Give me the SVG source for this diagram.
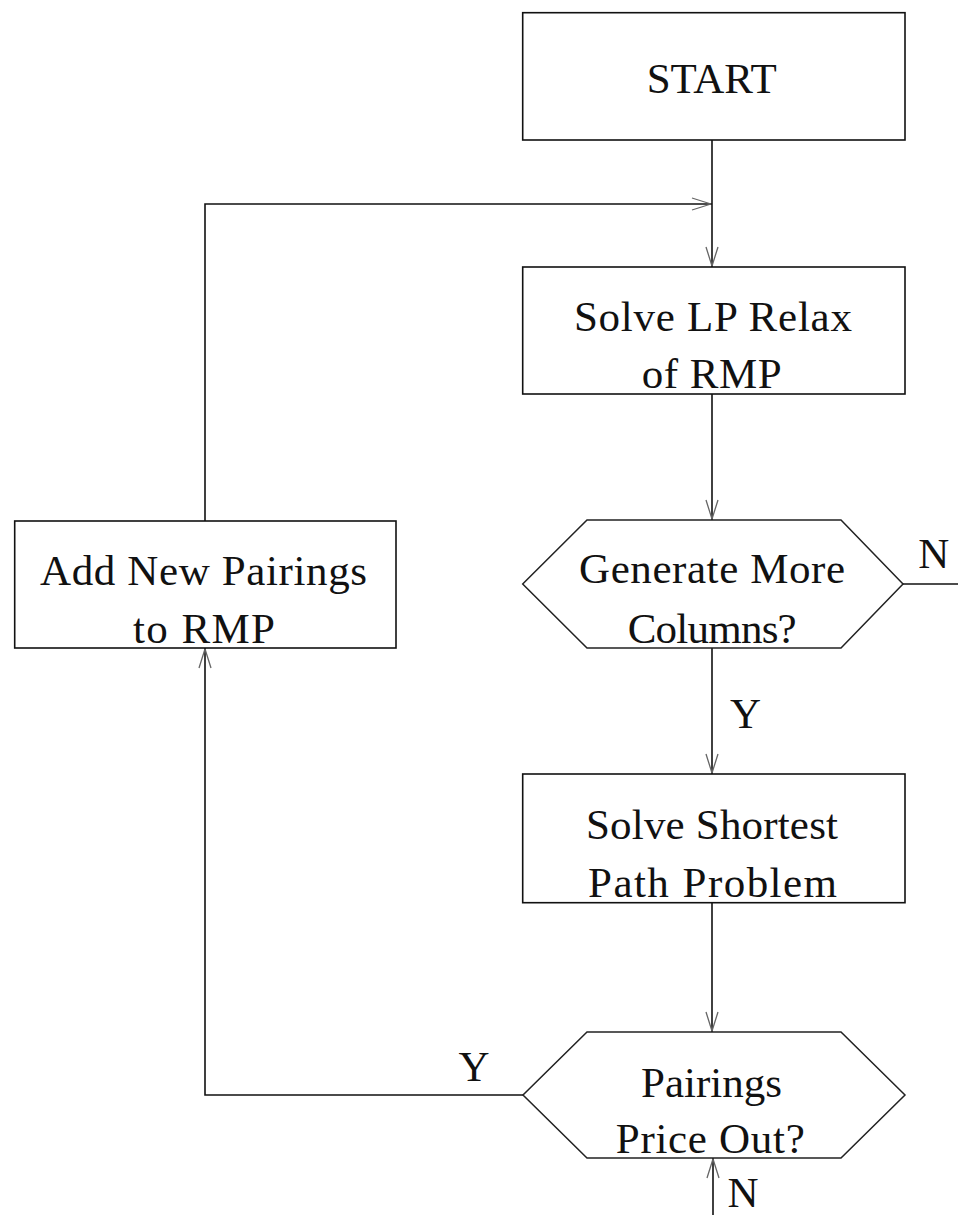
<svg xmlns="http://www.w3.org/2000/svg" width="958" height="1215" viewBox="0 0 958 1215">
  <style>
    .box { fill: none; stroke: #111; stroke-width: 1.6; }
    .hex { fill: none; stroke: #222; stroke-width: 1.5; stroke-linejoin: miter; }
    .edge { fill: none; stroke: #111; stroke-width: 1.6; }
    .head { fill: none; stroke: #666; stroke-width: 1.3; }
    text { font-family: "Liberation Serif", "DejaVu Serif", serif; font-size: 43px; fill: #111; text-anchor: middle; }
  </style>
  <rect width="958" height="1215" fill="#fff"/>

  <g id="connectors">
    <!-- START -> Solve LP -->
    <path class="edge" d="M712,140 V267"/>
    <path class="head" d="M706,247 L712,266 M718,247 L712,266"/>
    <!-- Solve LP -> Generate More Columns? -->
    <path class="edge" d="M712,394 V520"/>
    <path class="head" d="M706,500 L712,519 M718,500 L712,519"/>
    <!-- Generate More Columns? (Y) -> Solve Shortest Path -->
    <path class="edge" d="M712,648 V774"/>
    <path class="head" d="M706,754 L712,773 M718,754 L712,773"/>
    <!-- Generate More Columns? (N) exit -->
    <path class="edge" d="M903,584 H958"/>
    <!-- Solve Shortest Path -> Pairings Price Out? -->
    <path class="edge" d="M712,902 V1032"/>
    <path class="head" d="M706,1012 L712,1031 M718,1012 L712,1031"/>
    <!-- Pairings Price Out? (Y) -> Add New Pairings -->
    <path class="edge" d="M523,1095 H205 V648"/>
    <path class="head" d="M199,668 L205,649 M211,668 L205,649"/>
    <!-- Add New Pairings -> back into Solve LP -->
    <path class="edge" d="M205,521 V204 H712"/>
    <path class="head" d="M692,198 L711,204 M692,210 L711,204"/>
    <!-- Pairings Price Out? (N) -->
    <path class="edge" d="M713,1215 V1158"/>
    <path class="head" d="M707,1178 L713,1159 M719,1178 L713,1159"/>
    <text x="933.7" y="568" textLength="26">N</text>
    <text x="745.5" y="728" textLength="25">Y</text>
    <text x="474" y="1081" textLength="26">Y</text>
    <text x="743" y="1207" textLength="25">N</text>
  </g>

  <g id="start">
    <rect class="box" x="522.7" y="12.7" width="382.3" height="127.3"/>
    <text x="711.7" y="92.7" textLength="130">START</text>
  </g>

  <g id="solve-lp">
    <rect class="box" x="522.7" y="267" width="382.3" height="127"/>
    <text x="712.9" y="331" textLength="278">Solve LP Relax</text>
    <text x="711.7" y="388" textLength="140">of RMP</text>
  </g>

  <g id="generate-more">
    <polygon class="hex" points="587,520 841,520 903,584 841,648 587,648 522.7,584"/>
    <text x="712" y="583" textLength="266">Generate More</text>
    <text x="712.2" y="643" textLength="169">Columns?</text>
  </g>

  <g id="add-pairings">
    <rect class="box" x="14.7" y="521" width="381.3" height="127"/>
    <text x="203.5" y="585" textLength="327">Add New Pairings</text>
    <text x="204" y="643" textLength="142">to RMP</text>
  </g>

  <g id="shortest-path">
    <rect class="box" x="522.7" y="774" width="382.3" height="128.7"/>
    <text x="712" y="839" textLength="252">Solve Shortest</text>
    <text x="712.5" y="897" textLength="249">Path Problem</text>
  </g>

  <g id="price-out">
    <polygon class="hex" points="587,1032 841,1032 905,1095 841,1158 587,1158 523,1095"/>
    <text x="711.5" y="1097" textLength="141">Pairings</text>
    <text x="710.3" y="1153" textLength="189">Price Out?</text>
  </g>
</svg>
